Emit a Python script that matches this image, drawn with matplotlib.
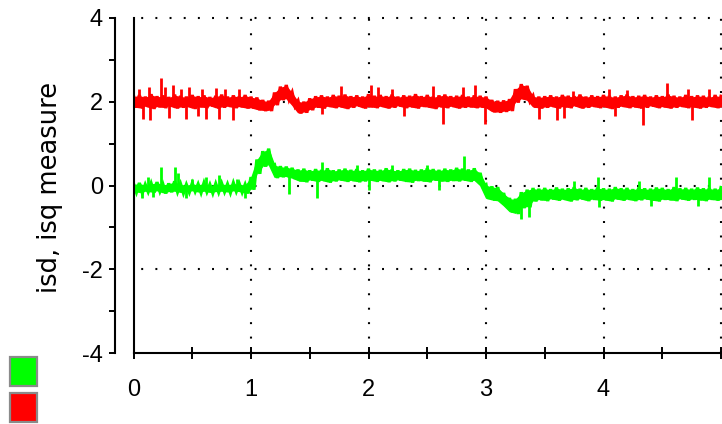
import matplotlib
matplotlib.use('Agg')
import matplotlib.pyplot as plt
import numpy as np
from matplotlib.patches import Rectangle

# ---------------- data ----------------
t = np.linspace(0.0, 5.0, 101)          # sample times, step 0.05

red_hi = [2.14, 2.16, 2.12, 2.18, 2.13, 2.15, 2.11, 2.17, 2.14, 2.12,
          2.16, 2.13, 2.15, 2.11, 2.14, 2.17, 2.12, 2.15, 2.13, 2.16,
          2.12, 2.10, 2.04, 2.02,
          2.22, 2.36, 2.40, 2.22, 2.02, 2.00, 2.08,
          2.13, 2.15, 2.12, 2.16, 2.14, 2.17, 2.13, 2.15, 2.12, 2.18,
          2.14, 2.16, 2.13, 2.17, 2.12, 2.15, 2.14, 2.18, 2.13, 2.16,
          2.12, 2.15, 2.17, 2.13, 2.14, 2.16, 2.12, 2.15, 2.14,
          2.12, 2.04, 2.02, 2.03, 2.06, 2.30, 2.42, 2.38, 2.14, 2.12,
          2.13, 2.15, 2.12, 2.16, 2.14, 2.13, 2.17, 2.12, 2.15, 2.13,
          2.16, 2.14, 2.12, 2.15, 2.17, 2.13, 2.14, 2.16, 2.12, 2.15,
          2.13, 2.17, 2.14, 2.12, 2.16, 2.13, 2.15, 2.14, 2.12, 2.16, 2.13]
red_lo = [1.86, 1.84, 1.88, 1.83, 1.87, 1.85, 1.89, 1.84, 1.86, 1.88,
          1.83, 1.87, 1.85, 1.89, 1.84, 1.86, 1.88, 1.85, 1.87, 1.84,
          1.84, 1.80, 1.78, 1.78,
          1.92, 2.04, 2.06, 1.90, 1.72, 1.74, 1.80,
          1.86, 1.84, 1.88, 1.85, 1.87, 1.83, 1.86, 1.89, 1.84, 1.87,
          1.85, 1.88, 1.84, 1.86, 1.89, 1.85, 1.87, 1.84, 1.88, 1.86,
          1.83, 1.87, 1.85, 1.88, 1.84, 1.86, 1.87, 1.85, 1.86,
          1.84, 1.75, 1.74, 1.76, 1.78, 1.98, 2.06, 2.02, 1.86, 1.84,
          1.86, 1.88, 1.84, 1.87, 1.85, 1.89, 1.84, 1.86, 1.88, 1.85,
          1.87, 1.83, 1.86, 1.88, 1.85, 1.87, 1.84, 1.86, 1.89, 1.85,
          1.87, 1.84, 1.86, 1.88, 1.85, 1.87, 1.84, 1.86, 1.88, 1.85, 1.86]

green_hi = [0.04, 0.06, 0.02, 0.05, 0.08, 0.03, 0.05, 0.10, 0.04, 0.02,
            0.05, 0.03, 0.06, 0.02, 0.04, 0.05, 0.03, 0.06, 0.04, 0.02,
            0.20, 0.62, 0.82, 0.88, 0.50, 0.46, 0.45, 0.42,
            0.38, 0.40, 0.36, 0.39, 0.37, 0.41, 0.36, 0.38, 0.40, 0.37,
            0.39, 0.36, 0.40, 0.38, 0.37, 0.41, 0.38, 0.36, 0.39, 0.40,
            0.37, 0.38, 0.41, 0.39, 0.37, 0.40, 0.38, 0.42, 0.40, 0.38, 0.41,
            0.30, 0.02, -0.02, -0.04, -0.18, -0.30, -0.32, -0.16, -0.10, -0.06,
            -0.08, -0.06, -0.09, -0.05, -0.08, -0.07, -0.04, -0.08, -0.06, -0.09,
            -0.05, -0.07, -0.08, -0.04, -0.07, -0.06, -0.09, -0.05, -0.07, -0.08,
            -0.05, -0.06, -0.09, -0.04, -0.07, -0.06, -0.08, -0.05, -0.07, -0.06,
            -0.08, -0.05]
green_lo = [-0.16, -0.18, -0.15, -0.17, -0.14, -0.19, -0.16, -0.15, -0.18, -0.16,
            -0.14, -0.17, -0.15, -0.18, -0.16, -0.15, -0.17, -0.14, -0.16, -0.19,
            -0.10, 0.28, 0.45, 0.48, 0.18, 0.20, 0.20, 0.16,
            0.10, 0.08, 0.12, 0.09, 0.11, 0.07, 0.10, 0.12, 0.09, 0.11,
            0.08, 0.10, 0.12, 0.09, 0.11, 0.08, 0.10, 0.12, 0.09, 0.07,
            0.11, 0.10, 0.08, 0.12, 0.10, 0.09, 0.11, 0.10, 0.12, 0.09, 0.11,
            -0.02, -0.32, -0.36, -0.38, -0.50, -0.64, -0.68, -0.54, -0.52, -0.38,
            -0.35, -0.37, -0.33, -0.36, -0.34, -0.38, -0.35, -0.33, -0.37, -0.34,
            -0.36, -0.35, -0.38, -0.33, -0.36, -0.34, -0.37, -0.35, -0.33, -0.36,
            -0.38, -0.34, -0.35, -0.37, -0.33, -0.36, -0.34, -0.35, -0.37, -0.34,
            -0.36, -0.35]

# isolated noise spikes (time, value)
red_spike_t = [0.05, 0.13, 0.23, 0.27, 0.34, 0.40, 0.47, 0.58, 0.70, 0.78, 0.90,
               1.77, 2.02, 2.08, 2.20, 2.55, 2.80, 2.91, 3.74, 4.05, 4.20, 4.54, 4.72, 4.90,
               0.08, 0.14, 0.30, 0.45, 0.55, 0.62, 0.73, 0.85, 1.60, 2.30, 2.63, 2.99,
               3.45, 3.60, 3.66, 4.10, 4.34, 4.75]
red_spike_v = [2.30, 2.35, 2.56, 2.35, 2.40, 2.30, 2.35, 2.30, 2.33, 2.30, 2.30,
               2.37, 2.40, 2.35, 2.30, 2.37, 2.35, 2.40, 2.25, 2.30, 2.28, 2.45, 2.30, 2.30,
               1.60, 1.56, 1.62, 1.58, 1.65, 1.60, 1.58, 1.56, 1.70, 1.65, 1.48, 1.48,
               1.60, 1.56, 1.62, 1.65, 1.44, 1.56]
green_spike_t = [0.12, 0.23, 0.35, 0.38, 0.50, 0.62, 0.73, 0.88, 1.60, 1.90, 2.20, 2.50,
                 2.81, 3.75, 3.95, 4.30, 4.62, 4.90,
                 0.075, 0.17, 0.45, 0.95, 1.32, 1.56, 2.00, 2.60, 3.30, 3.37, 3.96, 4.40, 4.80]
green_spike_v = [0.20, 0.44, 0.44, 0.30, 0.15, 0.20, 0.24, 0.15, 0.55, 0.50, 0.50, 0.50,
                 0.70, 0.10, 0.20, 0.10, 0.20, 0.20,
                 -0.31, -0.28, -0.30, -0.30, -0.20, -0.29, -0.10, -0.10, -0.79, -0.75, -0.52,
                 -0.50, -0.48]

x_ticks = [0, 1, 2, 3, 4, 5]
x_tick_labels = ['0', '1', '2', '3', '4', '']
y_ticks = [-4, -2, 0, 2, 4]
y_tick_labels = ['-4', '-2', '0', '2', '4']

# ---------------- figure ----------------
plt.rcParams['lines.scale_dashes'] = False
W, H = 722, 424
fig = plt.figure(figsize=(W / 100, H / 100), dpi=100)
ax = fig.add_axes([133.5 / W, 1 - 353 / H, (W - 133.5) / W, (353 - 18) / H])
ax.set_xlim(0, 5.0085)
ax.set_ylim(-4, 4)

RED = '#ff0000'
GREEN = '#00ff00'

half_step = (t[1] - t[0]) / 2
for hi, lo, st, sv, col in [(red_hi, red_lo, red_spike_t, red_spike_v, RED),
                            (green_hi, green_lo, green_spike_t, green_spike_v, GREEN)]:
    hi = np.asarray(hi)
    lo = np.asarray(lo)
    # solid core of the noisy trace
    core_hi = hi - 0.03
    core_lo = lo + 0.03
    ax.fill_between(t, core_lo, core_hi, color=col, lw=1.0, zorder=3)
    # noisy trace: alternate between the upper and lower readings
    zx = np.column_stack([t, t + half_step]).ravel()[:-1]
    zy = np.column_stack([hi, lo]).ravel()[:-1]
    ax.plot(zx, zy, color=col, lw=2.4, zorder=3, solid_joinstyle='miter')
    mid = (hi + lo) / 2
    base = np.interp(st, t, mid)
    ax.vlines(st, base, sv, color=col, lw=2.0, zorder=3)

# dotted grid
dots = (0, (1.4, 9.0))
for gx in [1, 2, 3, 4, 5]:
    ax.axvline(gx, color='black', lw=1.5, linestyle=dots, zorder=1, clip_on=False)
for gy in [-2, 0, 2, 4]:
    ax.axhline(gy, color='black', lw=1.5, linestyle=(5, (1.4, 8.8)), zorder=1, clip_on=False)

# inner vertical line at x = 0
ax.axvline(0, color='black', lw=1.5, zorder=4, clip_on=False)

for s in ['top', 'right']:
    ax.spines[s].set_visible(False)
ax.spines['left'].set_position(('outward', 13.5))
ax.spines['left'].set_linewidth(1.5)
ax.spines['bottom'].set_linewidth(1.5)

tick_font = {'family': 'Liberation Sans', 'size': 17}
ax.set_yticks(y_ticks)
ax.set_yticklabels(y_tick_labels, fontdict=tick_font)
ax.set_yticks([-3, -1, 1, 3], minor=True)
ax.set_xticks(x_ticks)
ax.set_xticklabels(x_tick_labels, fontdict=tick_font)
ax.set_xticks([0.5, 1.5, 2.5, 3.5, 4.5], minor=True)
ax.tick_params(axis='y', which='both', direction='out', length=4.5, width=1.4, pad=4)
ax.tick_params(axis='x', which='both', direction='inout', length=9, width=1.4, pad=14)

fig.text(50 / W, 1 - 187 / H, 'isd, isq measure', rotation=90, ha='center', va='center',
         fontsize=18.5, family='DejaVu Sans')

# legend swatches
for y0, col in [(357, GREEN), (393, RED)]:
    fig.add_artist(Rectangle((10 / W, 1 - (y0 + 29) / H), 27 / W, 29 / H,
                             transform=fig.transFigure, facecolor=col,
                             edgecolor='#8a8a8a', lw=1.6))

fig.savefig('out.png', dpi=100)
